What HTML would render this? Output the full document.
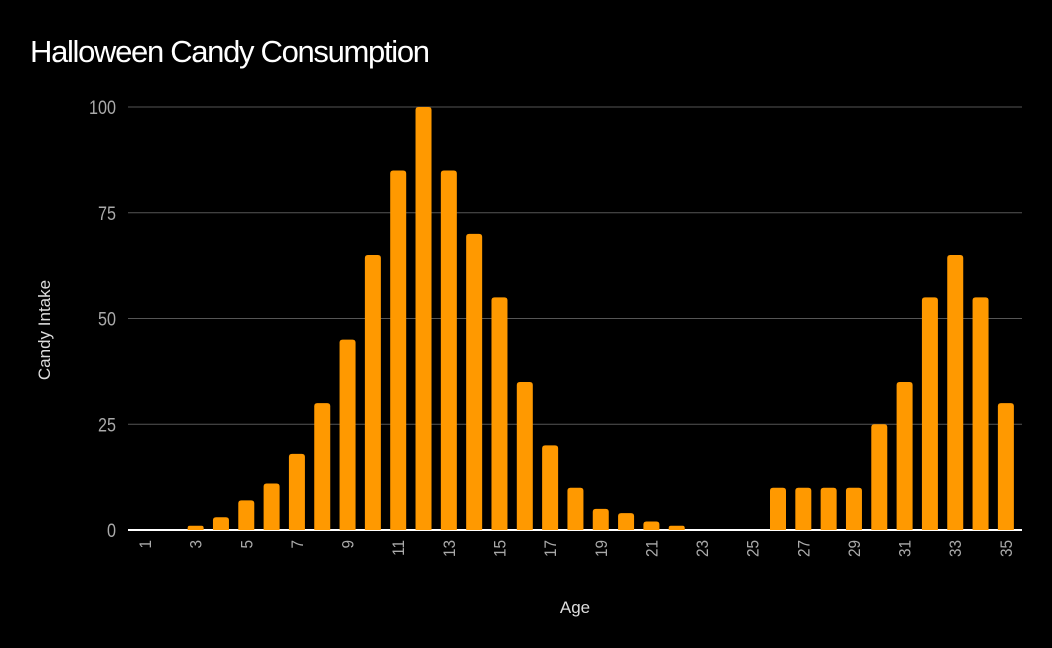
<!DOCTYPE html>
<html><head><meta charset="utf-8"><style>
html,body{margin:0;padding:0;background:#000;}
svg{display:block;font-family:"Liberation Sans",sans-serif;}
</style></head><body>
<svg id="chart" width="1052" height="648" viewBox="0 0 1052 648">
<text x="30" y="62" fill="#fff" font-size="31" textLength="400">Halloween Candy Consumption</text>
<text transform="translate(50,330) rotate(-90)" fill="#ddd" font-size="17" text-anchor="middle">Candy Intake</text>
<text x="575" y="613" fill="#ddd" font-size="17" text-anchor="middle">Age</text>
<g id="grid"></g><g id="bars"></g><g id="xlabels"></g>
</svg>
<script>
const categories=[1,2,3,4,5,6,7,8,9,10,11,12,13,14,15,16,17,18,19,20,21,22,23,24,25,26,27,28,29,30,31,32,33,34,35];
const values=[0,0,1,3,7,11,18,30,45,65,85,100,85,70,55,35,20,10,5,4,2,1,0,0,0,10,10,10,10,25,35,55,65,55,30];
const yTicks=[0,25,50,75,100];
const NS="http://www.w3.org/2000/svg";
const y0=530,y1=107,x0=145,step=25.32,bw=16;
const yScale=v=>y0-(v/100)*(y0-y1);
const xScale=i=>x0+i*step;
const grid=document.getElementById('grid');
yTicks.forEach(t=>{
  const l=document.createElementNS(NS,'line');
  l.setAttribute('x1',128);l.setAttribute('x2',1022);
  l.setAttribute('y1',yScale(t));l.setAttribute('y2',yScale(t));
  l.setAttribute('stroke',t===0?'#fff':'#555');l.setAttribute('stroke-width',t===0?2:1);
  
  
  grid.appendChild(l);
  const tx=document.createElementNS(NS,'text');
  tx.setAttribute('transform',`translate(116,${yScale(t)+7}) scale(0.85,1)`);
  tx.setAttribute('fill','#aaa');tx.setAttribute('font-size','19');tx.setAttribute('text-anchor','end');
  tx.textContent=t;
  
  
  grid.appendChild(tx);
});
const bars=document.getElementById('bars');
values.forEach((v,i)=>{
  if(v<=0)return;
  const h=yScale(0)-yScale(v);
  const x=xScale(i)-bw/2,y=yScale(v),r=Math.min(3,h/2);
  const p=document.createElementNS(NS,'path');
  p.setAttribute('d',`M${x},${y0} V${y+r} Q${x},${y} ${x+r},${y} H${x+bw-r} Q${x+bw},${y} ${x+bw},${y+r} V${y0} Z`);
  p.setAttribute('fill','#ff9900');
  
  
  bars.appendChild(p);
});
const xl=document.getElementById('xlabels');
categories.forEach((c,i)=>{
  if(i%2!==0)return;
  const t=document.createElementNS(NS,'text');
  const x=xScale(i);
  t.setAttribute('transform',`translate(${x+6},540) rotate(-90) scale(0.9,1)`);
  t.setAttribute('fill','#aaa');t.setAttribute('font-size','17');t.setAttribute('text-anchor','end');
  t.textContent=c;
  
  
  xl.appendChild(t);
});
</script>
</body></html>
